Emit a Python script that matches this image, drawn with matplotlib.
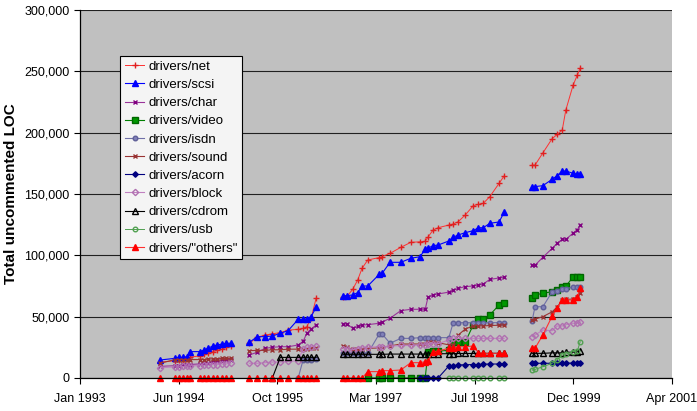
import numpy as np
import matplotlib
matplotlib.use("Agg")
import matplotlib.pyplot as plt
from matplotlib.ticker import FuncFormatter

plt.rcParams['font.family'] = ['Liberation Sans', 'DejaVu Sans']

# Release dates (decimal years), four release groups
dates_g1 = [1994.12, 1994.32, 1994.38, 1994.44, 1994.49, 1994.53, 1994.67, 1994.73,
            1994.78, 1994.85, 1994.91, 1994.98, 1995.03, 1995.10]
dates_g2 = [1995.36, 1995.47, 1995.58, 1995.68, 1995.79, 1995.90, 1996.04, 1996.11,
            1996.16, 1996.22, 1996.29]
dates_g3 = [1996.67, 1996.72, 1996.80, 1996.87, 1996.93, 1997.01, 1997.17, 1997.21,
            1997.32, 1997.47, 1997.61, 1997.74, 1997.81, 1997.85, 1997.92, 1997.99,
            1998.14, 1998.20, 1998.27, 1998.37, 1998.48, 1998.55, 1998.62, 1998.71,
            1998.84, 1998.91]
dates_g4 = [1999.30, 1999.34, 1999.45, 1999.58, 1999.65, 1999.72, 1999.77, 1999.87,
            1999.93, 1999.97]

N = None
# Values in thousands of uncommented lines, per group
net_k = [[13, 14, 14.5, 15, 15.5, 17, 18, 19.5, 20.5, 21.5, 22.5, 23.5, 25, 26],
         [28.3, 33.2, 35, 36, 37, 39, 39.7, 40.5, 41.8, 48.6, 65],
         [66.3, 66.5, 72.3, 80, 89.4, 96.2, 98.2, 99, 101.6, 106.5, 110.6, 111, 111.5,
          115, 120.6, 122.5, 124.7, 125.5, 127.4, 133, 140.5, 141.5, 142.4, 147.8, 158.7, 164.7],
         [173.5, 173.5, 183.5, 195.2, 198.5, 202.2, 218.5, 238.5, 247, 252.5]]
scsi_k = [[14.7, 16, 16.8, 16.8, 17.4, 21.5, 21.5, 22.8, 24.2, 26, 26.9, 27.7, 28.3, 28.3],
          [29.1, 33.7, 33.7, 34.2, 36.4, 38.6, 47.8, 47.8, 48.3, 50, 57.6],
          [67.1, 67.1, 67.7, 69.6, 75, 75, 84.5, 85.3, 94.3, 94.3, 97.6, 98.9, 105.2,
           105.8, 107.9, 108.4, 111.7, 114.7, 116.6, 118.5, 120.1, 122.5, 122.5, 126.1, 127.2, 135.1],
          [156, 156, 156.8, 162, 165, 168.7, 168.7, 166.9, 166, 166]]
char_k = [[9.5, 10, 10, 10.5, 10.5, 11, 11.5, 12, 12.5, 13, 13.5, 14, 14.5, 15],
          [18.8, 21, 24.2, 25, 25.5, 25.5, 26.9, 30, 36.4, 40, 43.2],
          [44, 44, 40.5, 42, 43.2, 43.5, 44.6, 45.5, 48.7, 54.9, 56, 56, 56, 66, 67.7,
           68.5, 70, 71.5, 73.1, 74.5, 75, 75.8, 76.6, 80.4, 81.5, 82.1],
          [91.9, 91.9, 98.4, 105.7, 110, 113, 113, 118, 121, 124.7]]
video_k = [[N] * 14,
           [N] * 11,
           [N, N, N, N, N, 0, 0, 0, 0, 0, 0, 0, 0, 21.5, 22, 22, 22.5, 29.6, 29.6, 29.6,
            43.2, 48, 48, 51.4, 59.5, 60.9],
           [65, 67.7, 69, 70.4, 72, 74.5, 75, 82.1, 82.6, 82.6]]
isdn_k = [[N] * 14,
          [N, N, N, N, N, N, 0, 15, 15, 15, 15.5],
          [20.1, 20.1, 20.1, 20.1, 20.1, 20.1, 35.9, 35.9, 28.3, 32.3, 32.3, 32.9, 32.9,
           32.9, 32.9, 32.9, 32.9, 45.1, 45.1, 45.1, 45.1, 45.1, 45.1, 45.1, 45.1, 45.1],
          [46.5, 58.1, 58.1, 70.4, 71, 72.3, 72.3, 74.5, 74.5, 74.5]]
sound_k = [[12, 15, 15, 15, 15, 15, 15, 15, 15.5, 15.5, 15.5, 16, 16, 16],
           [22.3, 22.5, 22.5, 23, 23, 23.5, 23.5, 24, 24, 24.2, 24.2],
           [26.1, 25, 23.4, 23.5, 24, 24.2, 24.5, 25, 26.1, 27.7, 27.7, 27.7, 28, 29.6,
            29.6, 28.8, 27, 27, 35, 40, 42.4, 42.4, 42.4, 42.8, 43, 43.2],
           [47.3, 48, 50, 54, 58, 63.6, 64, 64.4, 66, 69]]
acorn_k = [[N] * 14,
           [N] * 11,
           [N, N, N, N, N, N, N, N, N, N, N, 0, 0, 0, 0, 0, 9.8, 10, 10.6, 10.8, 11, 11,
            11.2, 11.4, 11.4, 11.4],
           [12, 12, 12, 12, 12, 12, 12, 12.2, 12.2, 12.2]]
block_k = [[8.5, 9, 9, 9.5, 9.5, 10, 10, 10.5, 10.5, 11, 11, 11.5, 11.5, 12],
           [12, 12, 12.5, 13, 13, 13.5, 14, 24, 25, 25.5, 26],
           [24, 24, 23, 24, 24.5, 25, 25.5, 25.5, 26, 26.5, 26.5, 27, 27, 28, 28, 28, 31,
            32.3, 32.3, 32.3, 32.3, 32.3, 32.3, 32.3, 32.3, 32.3],
           [33.7, 35, 39.1, 38.5, 42.4, 42.4, 43.5, 44.6, 45, 45.9]]
cdrom_k = [[N] * 14,
           [N, N, N, 0, 16.8, 16.8, 16.8, 16.8, 16.8, 16.8, 16.8],
           [19.3, 19.3, 19.3, 19.3, 19.3, 19.3, 19.3, 19.3, 19.5, 19.5, 19.5, 19.5, 19.5,
            19.5, 19.8, 19.8, 19.8, 19.8, 20, 20, 20, 20, 20, 20.1, 20.1, 20.1],
           [20.1, 20.1, 20.1, 20.5, 20.5, 20.5, 21, 21, 21.5, 22.3]]
usb_k = [[N] * 14,
         [N] * 11,
         [N] * 16 + [0] * 10,
         [6.5, 7, 9.2, 12, 15, 18.7, 19.5, 21.5, 22, 29.6]]
others_k = [[0] * 14,
            [0] * 11,
            [0, 0, 0, 0, 0, 5.2, 5.2, 6, 6, 6.5, 12.5, 12.5, 13.3, 14, 21.5, 22, 24.2,
             24.2, 25.5, 25.5, 26.1, 20.7, 20.1, 20.1, 20.1, 20.1],
            [24.2, 24.2, 35.1, 50.5, 57, 63.6, 63.6, 63.6, 66, 73.1]]

series_names = ['drivers/net', 'drivers/scsi', 'drivers/char', 'drivers/video',
                'drivers/isdn', 'drivers/sound', 'drivers/acorn', 'drivers/block',
                'drivers/cdrom', 'drivers/usb', 'drivers/"others"']
series_values = [net_k, scsi_k, char_k, video_k, isdn_k, sound_k, acorn_k, block_k,
                 cdrom_k, usb_k, others_k]

x_tick_labels = ['Jan 1993', 'Jun 1994', 'Oct 1995', 'Mar 1997', 'Jul 1998',
                 'Dec 1999', 'Apr 2001']
x_tick_pos = [1993.0, 1994.375, 1995.75, 1997.125, 1998.5, 1999.875, 2001.25]

styles = [
    dict(color='#FF3030', marker='+', ms=4, mfc='#FF2020', mec='#E02020', lw=0.7),
    dict(color='#0000FF', marker='^', ms=3.8, mfc='#0000FF', mec='#0000FF', lw=0.8),
    dict(color='#993399', marker='x', ms=3.2, mfc='#993399', mec='#800080', lw=0.8),
    dict(color='#008000', marker='s', ms=3.8, mfc='#009900', mec='#006600', lw=0.8),
    dict(color='#7070A8', marker='o', ms=3.3, mfc='#8080B8', mec='#606098', lw=0.8),
    dict(color='#993333', marker='x', ms=3.2, mfc='#993333', mec='#993333', lw=0.8),
    dict(color='#000080', marker='D', ms=2.8, mfc='#000080', mec='#000080', lw=0.8),
    dict(color='#C080C0', marker='D', ms=3.2, mfc='none', mec='#B070B0', lw=0.8),
    dict(color='#000000', marker='^', ms=3.8, mfc='none', mec='#000000', lw=0.8),
    dict(color='#50A050', marker='o', ms=3.3, mfc='none', mec='#50A050', lw=0.7),
    dict(color='#FF3030', marker='^', ms=3.8, mfc='#FF0000', mec='#FF0000', lw=0.8),
]

group_dates = [dates_g1, dates_g2, dates_g3, dates_g4]

fig = plt.figure(figsize=(6.97, 4.11), dpi=100)
ax = fig.add_axes([0.1148, 0.0803, 0.8494, 0.8954])
ax.set_facecolor('#C0C0C0')

handles = []
for name, vals, st in zip(series_names, series_values, styles):
    h = None
    for d, v in zip(group_dates, vals):
        y = np.array([np.nan if a is None else a * 1000 for a in v], dtype=float)
        ln, = ax.plot(d, y, linestyle='-', clip_on=False, **st)
        if h is None:
            h = ln
    handles.append(h)

ax.set_xlim(1993.0, 2001.25)
ax.set_ylim(0, 300000)
ax.set_yticks(np.arange(0, 300001, 50000))
ax.yaxis.set_major_formatter(FuncFormatter(lambda v, p: f"{int(v):,}"))
ax.set_xticks(x_tick_pos)
ax.set_xticklabels(x_tick_labels)
ax.tick_params(axis='both', labelsize=9, length=4, width=0.8, colors='black')
ax.tick_params(axis='x', pad=7)
ax.yaxis.grid(True, color='#202020', linewidth=0.8)
ax.set_axisbelow(True)
for s in ['top', 'right']:
    ax.spines[s].set_visible(False)
for s in ['left', 'bottom']:
    ax.spines[s].set_color('black')
    ax.spines[s].set_linewidth(0.9)

ax.set_ylabel('Total uncommented LOC', fontsize=11, fontweight='bold')
ax.yaxis.set_label_coords(-0.105, 0.5)

leg = ax.legend(handles, series_names, loc='upper left',
                bbox_to_anchor=(0.0676, 0.875), fontsize=9.5, labelspacing=0.45,
                handlelength=1.5, handletextpad=0.3, borderpad=0.35,
                frameon=True, fancybox=False, borderaxespad=0)
leg.get_frame().set_facecolor('#F4F4F4')
leg.get_frame().set_edgecolor('black')
leg.get_frame().set_linewidth(0.8)
leg.get_frame().set_alpha(1)

fig.savefig('out.png', dpi=100)
